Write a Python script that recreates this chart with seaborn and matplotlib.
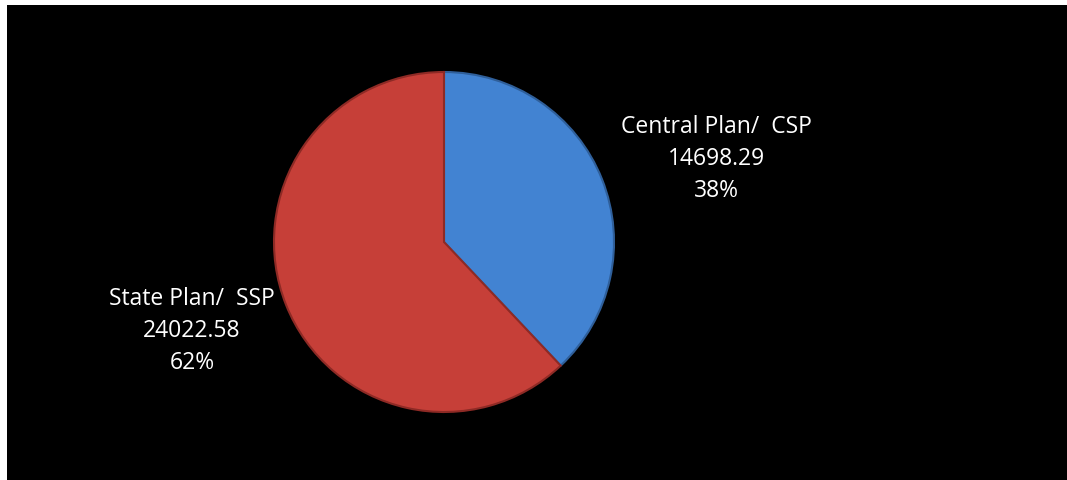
import matplotlib
matplotlib.use("Agg")
import matplotlib.pyplot as plt
import seaborn as sns
from matplotlib.patches import Rectangle

categories = ["Central Plan/  CSP", "State Plan/  SSP"]
values = [14698.29, 24022.58]
percent_labels = ["38%", "62%"]
colors = ["#4283D2", "#C63F38"]
edge_colors = ["#2F5F9A", "#8E2A25"]

sns.set_theme(style="white")
plt.rcParams['font.family'] = ['Open Sans', 'DejaVu Sans']

W, H = 1067, 481
fig = plt.figure(figsize=(W / 100, H / 100), dpi=100, facecolor="white")
ax = fig.add_axes([0, 0, 1, 1])

ax.add_patch(Rectangle((7, 0), W - 7, H - 6, facecolor="black", edgecolor="none", zorder=0))

wedges, _ = ax.pie(values, colors=colors, startangle=90, counterclock=False,
                   center=(444, H - 243), radius=170,
                   wedgeprops=dict(linewidth=1.5))
for w, ec in zip(wedges, edge_colors):
    w.set_edgecolor(ec)

ax.set_xlim(0, W)
ax.set_ylim(0, H)
ax.set_aspect("equal")
ax.axis("off")

label_pos = [(716, H - 159), (192, H - 331)]
for cat, val, pct, (x, y) in zip(categories, values, percent_labels, label_pos):
    ax.text(x, y, f"{cat}\n{val:.2f}\n{pct}", color="white", fontsize=16.5,
            ha="center", va="center", linespacing=1.42)

fig.savefig("out.png", dpi=100, facecolor="white")
